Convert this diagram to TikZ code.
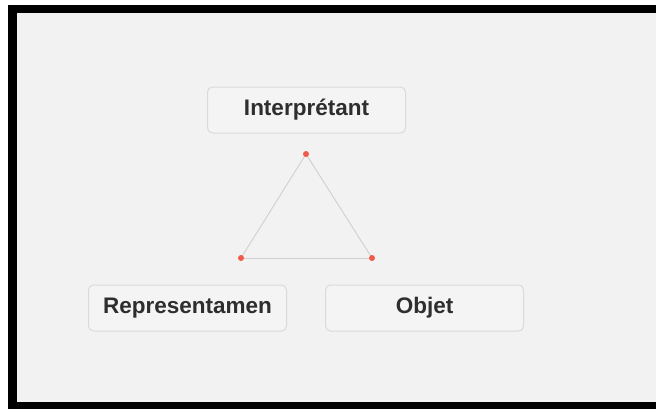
\documentclass[tikz,border=0pt]{standalone}
\usepackage{fontspec}
\setmainfont{Liberation Sans}
\usetikzlibrary{positioning}
\usepackage{xcolor}
\definecolor{panel}{HTML}{F2F2F2}
\definecolor{boxline}{HTML}{DADADA}
\definecolor{boxfill}{HTML}{F4F4F4}
\definecolor{sidegray}{HTML}{CFCFCF}
\definecolor{vertex}{HTML}{F05A4A}
\definecolor{label}{HTML}{2E2E2E}

\begin{document}
\begin{tikzpicture}[
    x=1pt, y=-1pt,
    node distance=38pt,
    term/.style={
        rectangle, rounded corners=5pt, draw=boxline, line width=1pt,
        minimum width=198pt, minimum height=46pt,
        align=center, font=\fontsize{22.5}{26}\selectfont\bfseries,
        fill=boxfill, text=label
    },
    dot/.style={circle, fill=vertex, inner sep=0pt, minimum size=6pt},
    side/.style={sidegray, line width=0.9pt},
]

% ── Frame ──────
\useasboundingbox (0,0) rectangle (656,412);
\fill[white] (0,0) rectangle (656,412);
\fill[black] (8,5) rectangle (656,409);
\fill[panel] (17,13) rectangle (656,402);

% ── Terms ──────
\node[term] (interp) at (306.5,110) {Interprétant};
\node[term] (repr) at (187.5,308) {Representamen};
\node[term, right=of repr] (objet) {Objet};

% ── Triangle ──────
\coordinate (top) at (306,154);
\coordinate (left) at (241,258);
\coordinate (right) at (372,258);

\draw[side] (top) -- (left);
\draw[side] (left) -- (right);
\draw[side] (right) -- (top);

\node[dot] (dtop) at (top) {};
\node[dot] (dleft) at (left) {};
\node[dot] (dright) at (right) {};

\end{tikzpicture}
\end{document}
